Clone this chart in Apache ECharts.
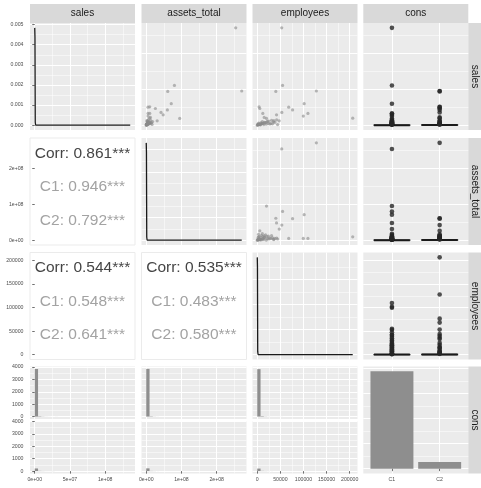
<!DOCTYPE html>
<html><head><meta charset="utf-8">
<script src="https://cdn.jsdelivr.net/npm/echarts@6/dist/echarts.min.js"></script>
<style>html,body{margin:0;padding:0;background:#fff}#c{width:481px;height:488px}</style>
</head><body><div id="c"></div>
<script>
// ---------------- DATA ----------------
const varNames = ['sales', 'assets_total', 'employees', 'cons'];
const consLevels = ['C1', 'C2'];

// visible observations (outliers and the cluster near the origin)
const sales = [135.5e6, 47.6e6, 55.3e6, 47.0e6, 29.9e6, 21.3e6, 9.4e6, 25.5e6, 23.2e6, 17.7e6, 14.4e6, 9.8e6, 12.6e6, 16.3e6, 25.1e6, 6.1e6, 16.3e6, 10.8e6,
  3.2e6, 1.5e6, 0.8e6, 2.4e6, 4.1e6, 5.3e6, 0.5e6, 1.1e6, 2.0e6, 6.8e6, 3.6e6, 0.3e6, 1.8e6, 4.6e6, 2.9e6, 0.9e6, 7.5e6, 1.3e6, 2.6e6, 0.6e6, 5.0e6, 3.9e6, 1.6e6, 0.05e6, 2.2e6,
  1.2e6, 3.4e6, 0.7e6, 2.7e6, 5.8e6, 1.9e6, 0.5e6, 4.4e6, 1.0e6, 2.3e6, 6.2e6, 0.9e6];
const assets = [254e6, 271e6, 80e6, 61e6, 71e6, 60e6, 95e6, 10e6, 26e6, 42e6, 48e6, 9.4e6, 5e6, 5e6, 5e6, 31e6, 10e6, 12e6,
  6.5e6, 2.0e6, 1.2e6, 3.8e6, 8.2e6, 4.0e6, 0.9e6, 3.0e6, 1.5e6, 12.5e6, 15.0e6, 0.6e6, 5.5e6, 2.8e6, 9.0e6, 2.2e6, 6.0e6, 0.4e6, 11.0e6, 1.8e6, 18.0e6, 5.0e6, 7.5e6, 0.1e6, 4.5e6,
  2.5e6, 7.0e6, 1.0e6, 13.0e6, 3.5e6, 6.2e6, 0.8e6, 9.8e6, 16.5e6, 4.2e6, 1.8e6, 3.3e6];
const employees = [53000, 127800, 54800, 40200, 101500, 76400, 20000, 4000, 5500, 53200, 41700, 206500, 99600, 109600, 68000, 47500, 12000, 15000,
  8000, 4500, 2500, 12000, 15500, 22000, 1200, 6000, 9500, 31000, 18000, 800, 27000, 35000, 3000, 14000, 42000, 19500, 24000, 7000, 11000, 38000, 2000, 50, 29500,
  3500, 16000, 1500, 9000, 25000, 33000, 6500, 21000, 2800, 12500, 36000, 44000];
const cons = ['C1','C2','C1','C2','C1','C2','C1','C2','C2','C2','C1','C2','C1','C1','C2','C1','C1','C2',
  'C1','C1','C1','C1','C1','C1','C1','C1','C1','C1','C1','C1','C1','C1','C1','C1','C1','C1','C1','C1','C1','C1','C1','C1','C1',
  'C2','C2','C2','C2','C2','C2','C2','C2','C2','C2','C2','C2'];

// correlations
const corrAll = [0.861, 0.544, 0.535];
const corrC1 = [0.946, 0.548, 0.483];
const corrC2 = [0.792, 0.641, 0.580];

// densities (diagonal)
const salesDensX = [0, 0.3e6, 0.7e6, 1.2e6, 3e6, 1e7, 3e7, 6e7, 1e8, 135.5e6];
const salesDensY = [0.00484, 0.0044, 0.00015, 0.000005, 0, 0, 0, 0, 0, 0];
const assetsDensX = [0, 0.6e6, 1.4e6, 2.4e6, 6e6, 2e7, 5e7, 1e8, 2e8, 271e6];
const assetsDensY = [0.00215, 0.00195, 0.00007, 0.000002, 0, 0, 0, 0, 0, 0];
const empDensX = [50, 450, 1000, 1800, 5000, 10000, 30000, 80000, 150000, 206500];
const empDensY = [0.0097, 0.0088, 0.0003, 0.00001, 0, 0, 0, 0, 0, 0];

// box statistics [lower whisker, Q1, median, Q3, upper whisker]
const salesBox = { C1: [0, 0.01e6, 0.05e6, 0.25e6, 0.6e6], C2: [0, 0.02e6, 0.08e6, 0.35e6, 0.85e6] };
const assetsBox = { C1: [0, 0.02e6, 0.1e6, 0.4e6, 1.0e6], C2: [0, 0.03e6, 0.15e6, 0.6e6, 1.4e6] };
const empBox = { C1: [0, 20, 80, 300, 750], C2: [0, 30, 120, 450, 1100] };

// histograms (bins start at 0)
const salesBinW = 4.7e6, assetsBinW = 9.4e6, empBinW = 7150;
const salesHist = {
  C1: [3840, 34, 14, 6, 3, 2, 3, 1, 0, 0, 0, 1, 1, 0, 0, 0, 0, 0, 0, 0, 0, 0, 0, 0, 0, 0, 0, 0, 1],
  C2: [214, 18, 8, 4, 3, 6, 2, 0, 0, 0, 2, 0, 0, 0, 0, 0, 0, 0, 0, 0, 0, 0, 0, 0, 0, 0, 0, 0, 0]
};
const assetsHist = {
  C1: [3850, 30, 9, 4, 2, 1, 0, 1, 1, 1, 1, 0, 0, 0, 0, 0, 0, 0, 0, 0, 0, 0, 0, 0, 0, 0, 0, 1, 0],
  C2: [222, 14, 6, 3, 2, 1, 2, 0, 0, 0, 0, 0, 0, 0, 0, 0, 0, 0, 0, 0, 0, 0, 0, 0, 0, 0, 0, 0, 1]
};
const empHist = {
  C1: [3830, 40, 13, 6, 4, 3, 4, 3, 1, 0, 0, 0, 0, 1, 1, 1, 0, 0, 0, 0, 0, 0, 0, 0, 0, 0, 0, 0, 0],
  C2: [205, 18, 8, 5, 3, 2, 2, 1, 1, 1, 1, 0, 0, 0, 0, 0, 0, 1, 0, 0, 0, 0, 0, 0, 0, 0, 0, 0, 1]
};
const consCounts = [3880, 262];

// axis breaks (tick labels)
const salesBreaks = [0, 5e7, 1e8], salesMinor = [2.5e7, 7.5e7, 1.25e8];
const assetsBreaks = [0, 1e8, 2e8], assetsMinor = [0.5e8, 1.5e8, 2.5e8];
const empBreaks = [0, 50000, 100000, 150000, 200000], empMinor = [25000, 75000, 125000, 175000];
const salesDensBreaks = [0, 0.001, 0.002, 0.003, 0.004, 0.005], salesDensMinor = [0.0005, 0.0015, 0.0025, 0.0035, 0.0045];
const assetsDensBreaks = [0, 0.0005, 0.001, 0.0015, 0.002], assetsDensMinor = [0.00025, 0.00075, 0.00125, 0.00175];
const empDensBreaks = [0, 0.0025, 0.005, 0.0075], empDensMinor = [0.00125, 0.00375, 0.00625, 0.00875];
const countBreaks = [0, 1000, 2000, 3000, 4000], countMinor = [500, 1500, 2500, 3500];

// ---------------- LAYOUT / STYLE ----------------
const W = 105, H = 107;
const colX = [30, 141.5, 252.5, 363.3];
const rowY = [23, 138, 252.5, 366.5];
const subH = 52.5, subGap = 2;
const FONT = 'Liberation Sans';
const PANEL_BG = '#ebebeb', STRIP_BG = '#d9d9d9';

function sci(v) {
  if (v === 0) return '0e+00';
  const e = Math.floor(Math.log10(Math.abs(v)) + 1e-9);
  const m = Math.round(v / Math.pow(10, e));
  return m + 'e+' + String(e).padStart(2, '0');
}
function expand(lo, hi) { const r = hi - lo; return [lo - 0.05 * r, hi + 0.05 * r]; }
function mkSpec(arr, major, minor, fmt) {
  const r = expand(Math.min(...arr), Math.max(...arr));
  return { min: r[0], max: r[1], major, minor, fmt };
}
function densSpec(ys, major, minor) {
  const p = Math.max(...ys);
  return { min: -0.05 * p, max: 1.05 * p, major, minor, fmt: v => v.toFixed(3) };
}
const varSpec = [
  mkSpec(sales, salesBreaks, salesMinor, sci),
  mkSpec(assets, assetsBreaks, assetsMinor, sci),
  mkSpec(employees, empBreaks, empMinor, v => String(v))
];
const dSpec = [
  densSpec(salesDensY, salesDensBreaks, salesDensMinor),
  densSpec(assetsDensY, assetsDensBreaks, assetsDensMinor),
  densSpec(empDensY, empDensBreaks, empDensMinor)
];
const consSpec = { min: 0.4, max: 2.6, major: [1, 2], minor: [], fmt: v => consLevels[v - 1] };
const histMax = Math.max(...salesHist.C1, ...salesHist.C2, ...assetsHist.C1, ...assetsHist.C2, ...empHist.C1, ...empHist.C2);
const countSpec = { min: -0.05 * histMax, max: 1.05 * histMax, major: countBreaks, minor: countMinor, fmt: v => String(v) };
const barSpec = { min: -0.05 * Math.max(...consCounts), max: 1.05 * Math.max(...consCounts), major: countBreaks, minor: countMinor, fmt: v => String(v) };

const grids = [], xAxes = [], yAxes = [], series = [], graphics = [];

function addGrid(left, top, w, h, corr) {
  grids.push({ left, top, width: w, height: h, show: true, backgroundColor: corr ? '#ffffff' : PANEL_BG,
    borderWidth: corr ? 1 : 0, borderColor: corr ? '#ebebeb' : 'transparent', containLabel: false });
  return grids.length - 1;
}
function pushAxis(list, dim, gi, s, lab, grid) {
  list.push({
    type: 'value', gridIndex: gi, min: s.min, max: s.max, position: dim === 'x' ? 'bottom' : 'left',
    axisLine: { show: false },
    axisTick: { show: lab, customValues: s.major, length: 2.5, lineStyle: { color: '#333', width: 0.7 } },
    axisLabel: { show: lab, customValues: s.major, formatter: s.fmt, fontSize: 5.2, color: '#4d4d4d',
      margin: dim === 'x' ? 3.5 : 6.5, fontFamily: FONT },
    splitLine: { show: grid, lineStyle: { color: '#ffffff', width: 1 } },
    splitArea: { show: false }
  });
  const idx = list.length - 1;
  if (grid && s.minor.length) {
    list.push({ type: 'value', gridIndex: gi, min: s.min, max: s.max, position: dim === 'x' ? 'top' : 'right',
      axisLine: { show: false }, axisTick: { show: false, customValues: s.minor },
      axisLabel: { show: false, customValues: s.minor },
      splitLine: { show: true, lineStyle: { color: '#ffffff', width: 0.5 } } });
  }
  return idx;
}
function varData(i) { return [sales, assets, employees][i]; }

function histSeries(xi, yi, counts, w) {
  const data = [];
  counts.forEach((n, i) => { if (n > 0) data.push([i * w, (i + 1) * w, n]); });
  return { type: 'custom', xAxisIndex: xi, yAxisIndex: yi, silent: true, data,
    renderItem: (p, api) => {
      const a = api.coord([api.value(0), api.value(2)]);
      const b = api.coord([api.value(1), 0]);
      return { type: 'rect', shape: { x: a[0], y: a[1], width: b[0] - a[0], height: b[1] - a[1] }, style: { fill: '#8e8e8e' } };
    } };
}

// ---- rows 1..3 ----
for (let r = 0; r < 3; r++) {
  for (let c = 0; c < 4; c++) {
    const isCorr = c < 3 && r > c;
    const gi = addGrid(colX[c], rowY[r], W, H, isCorr);
    const xs = c < 3 ? varSpec[c] : consSpec;
    const ys = (r === c) ? dSpec[r] : varSpec[r];
    const xi = pushAxis(xAxes, 'x', gi, xs, false, !isCorr);
    const yi = pushAxis(yAxes, 'y', gi, ys, c === 0, !isCorr);
    if (isCorr) {
      const k = r === 1 ? 0 : (c === 0 ? 1 : 2);
      const cx = colX[c] + W / 2;
      const lines = [['Corr: ' + corrAll[k].toFixed(3) + '***', '#454545', 0.145],
                     ['C1: ' + corrC1[k].toFixed(3) + '***', '#a3a3a3', 0.458],
                     ['C2: ' + corrC2[k].toFixed(3) + '***', '#a3a3a3', 0.771]];
      lines.forEach(L => graphics.push({ type: 'text', x: cx, y: rowY[r] + H * L[2], silent: true,
        style: { text: L[0], fill: L[1], fontSize: 15.5, fontFamily: FONT, align: 'center', verticalAlign: 'middle' } }));
    } else if (r === c) {
      const dx = [salesDensX, assetsDensX, empDensX][r], dy = [salesDensY, assetsDensY, empDensY][r];
      series.push({ type: 'line', xAxisIndex: xi, yAxisIndex: yi, showSymbol: false, silent: true,
        data: dx.map((v, i) => [v, dy[i]]), lineStyle: { color: '#1a1a1a', width: 1.3 } });
    } else if (c < 3) {
      const X = varData(c), Y = varData(r);
      series.push({ type: 'scatter', xAxisIndex: xi, yAxisIndex: yi, silent: true, symbolSize: 3.2,
        data: X.map((v, i) => [v, Y[i]]), itemStyle: { color: '#8a8a8a', opacity: 0.6 } });
    } else {
      const box = [salesBox, assetsBox, empBox][r];
      const Y = varData(r);
      const bdata = consLevels.map((g, j) => [j + 1].concat(box[g]));
      series.push({ type: 'custom', xAxisIndex: xi, yAxisIndex: yi, silent: true, data: bdata,
        renderItem: (p, api) => {
          const x = api.value(0);
          const lo = api.coord([x, api.value(1)]), q1 = api.coord([x, api.value(2)]);
          const md = api.coord([x, api.value(3)]), q3 = api.coord([x, api.value(4)]), hi = api.coord([x, api.value(5)]);
          const bw = api.size([0.75, 0])[0];
          return { type: 'group', children: [
            { type: 'line', shape: { x1: lo[0], y1: lo[1], x2: hi[0], y2: hi[1] }, style: { stroke: '#1a1a1a', lineWidth: 0.8 } },
            { type: 'rect', shape: { x: q1[0] - bw / 2, y: q3[1], width: bw, height: q1[1] - q3[1] }, style: { fill: '#fff', stroke: '#1a1a1a', lineWidth: 1.2 } },
            { type: 'line', shape: { x1: md[0] - bw / 2, y1: md[1], x2: md[0] + bw / 2, y2: md[1] }, style: { stroke: '#1a1a1a', lineWidth: 2 } }
          ] };
        } });
      const out = [];
      Y.forEach((v, i) => { const j = consLevels.indexOf(cons[i]); if (v > box[cons[i]][4]) out.push([j + 1, v]); });
      series.push({ type: 'scatter', xAxisIndex: xi, yAxisIndex: yi, silent: true, symbolSize: 4.6,
        data: out, itemStyle: { color: '#262626' }, z: 3 });
    }
  }
}

// ---- row 4 (cons) ----
for (let c = 0; c < 3; c++) {
  const hists = [salesHist, assetsHist, empHist][c], bw = [salesBinW, assetsBinW, empBinW][c];
  consLevels.forEach((g, j) => {
    const top = rowY[3] + j * (subH + subGap);
    const gi = addGrid(colX[c], top, W, subH, false);
    const xi = pushAxis(xAxes, 'x', gi, varSpec[c], j === 1, true);
    const yi = pushAxis(yAxes, 'y', gi, countSpec, c === 0, true);
    series.push(histSeries(xi, yi, hists[g], bw));
  });
}
{
  const gi = addGrid(colX[3], rowY[3], W, H, false);
  const xi = pushAxis(xAxes, 'x', gi, consSpec, true, true);
  const yi = pushAxis(yAxes, 'y', gi, barSpec, false, true);
  series.push({ type: 'custom', xAxisIndex: xi, yAxisIndex: yi, silent: true,
    data: consCounts.map((n, j) => [j + 1, n]),
    renderItem: (p, api) => {
      const a = api.coord([api.value(0), api.value(1)]);
      const b = api.coord([api.value(0), 0]);
      const w = api.size([0.9, 0])[0];
      return { type: 'rect', shape: { x: a[0] - w / 2, y: a[1], width: w, height: b[1] - a[1] }, style: { fill: '#8e8e8e' } };
    } });
}

// ---- strips ----
varNames.forEach((name, c) => {
  graphics.push({ type: 'rect', silent: true, shape: { x: colX[c], y: 4, width: W, height: 19 }, style: { fill: STRIP_BG } });
  graphics.push({ type: 'text', silent: true, x: colX[c] + W / 2, y: 13.7,
    style: { text: name, fill: '#1a1a1a', fontSize: 10, fontFamily: FONT, align: 'center', verticalAlign: 'middle' } });
});
varNames.forEach((name, r) => {
  const sx = colX[3] + W;
  graphics.push({ type: 'rect', silent: true, shape: { x: sx, y: rowY[r], width: 481 - sx, height: H }, style: { fill: STRIP_BG } });
  graphics.push({ type: 'text', silent: true, x: sx + 6.8, y: rowY[r] + H / 2, rotation: -Math.PI / 2,
    style: { text: name, fill: '#1a1a1a', fontSize: 10, fontFamily: FONT, align: 'center', verticalAlign: 'middle' } });
});

const chart = echarts.init(document.getElementById('c'), null, { renderer: 'canvas' });
chart.setOption({
  animation: false,
  backgroundColor: '#ffffff',
  textStyle: { fontFamily: FONT },
  grid: grids, xAxis: xAxes, yAxis: yAxes, series, graphic: graphics
});
</script></body></html>
